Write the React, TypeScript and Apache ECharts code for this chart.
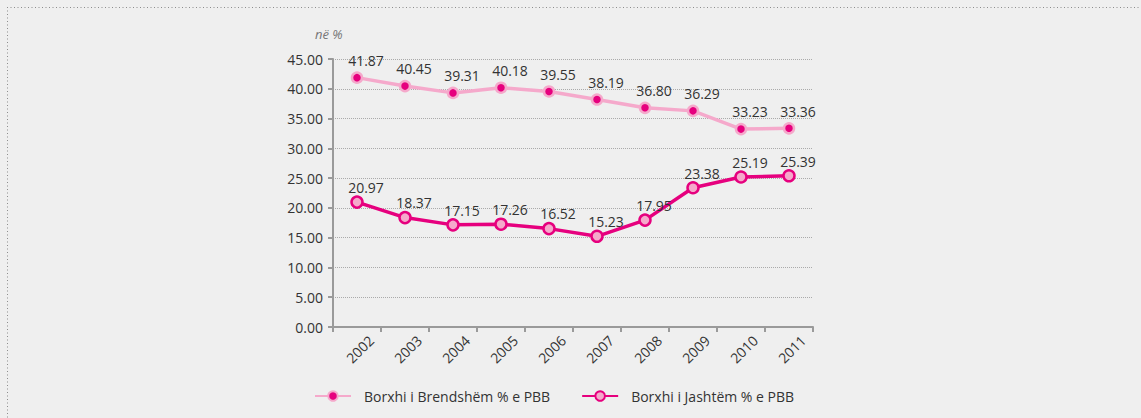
import React, { useEffect, useRef } from "react";
import * as echarts from "echarts";

const years = ["2002", "2003", "2004", "2005", "2006", "2007", "2008", "2009", "2010", "2011"];
const brendshem = [41.87, 40.45, 39.31, 40.18, 39.55, 38.19, 36.8, 36.29, 33.23, 33.36];
const jashtem = [20.97, 18.37, 17.15, 17.26, 16.52, 15.23, 17.95, 23.38, 25.19, 25.39];
const seriesNames = ["Borxhi i Brendshëm % e PBB", "Borxhi i Jashtëm % e PBB"];
const unitLabel = "në %";

const LIGHT = "#f5a9cb";
const MAGENTA = "#e6007e";
const FONT = "'Open Sans', sans-serif";

export default function App() {
  const ref = useRef<HTMLDivElement>(null);
  useEffect(() => {
    document.body.style.background = "#efefef";
    const chart = echarts.init(ref.current!, undefined, { renderer: "svg" });
    chart.setOption({
      animation: false,
      backgroundColor: "#efefef",
      textStyle: { fontFamily: FONT },
      grid: { left: 333, top: 59, width: 480, height: 268, containLabel: false },
      graphic: [
        { type: "line", shape: { x1: 7, y1: 7.5, x2: 1141, y2: 7.5 }, style: { stroke: "#8c8c8c", lineWidth: 1, lineDash: [1, 2.5] } },
        { type: "line", shape: { x1: 7.5, y1: 7, x2: 7.5, y2: 418 }, style: { stroke: "#8c8c8c", lineWidth: 1, lineDash: [1, 2.5] } },
        {
          type: "text",
          x: 315,
          y: 34,
          style: { text: unitLabel, fill: "#777", font: `italic 13px ${FONT}`, verticalAlign: "middle" },
        },
      ],
      legend: {
        left: 309,
        top: 384,
        itemWidth: 36,
        itemHeight: 12,
        itemGap: 31,
        textStyle: { fontSize: 14, color: "#333", fontFamily: FONT, padding: [0, 0, 0, 8] },
        data: seriesNames,
      },
      xAxis: {
        type: "category",
        data: years,
        boundaryGap: true,
        axisLine: { lineStyle: { color: "#9a9a9a", width: 2 } },
        axisTick: { show: true, length: 5, lineStyle: { color: "#9a9a9a", width: 2 } },
        axisLabel: {
          interval: 0,
          rotate: 45,
          align: "center",
          verticalAlign: "middle",
          margin: 25,
          padding: [0, 0, 0, 8],
          fontSize: 14,
          color: "#333",
          fontFamily: FONT,
        },
      },
      yAxis: {
        type: "value",
        min: 0,
        max: 45,
        interval: 5,
        axisLine: { show: true, lineStyle: { color: "#9a9a9a", width: 2 } },
        axisTick: { show: true, length: 5, lineStyle: { color: "#9a9a9a", width: 2 } },
        axisLabel: {
          formatter: (v: number) => v.toFixed(2),
          fontSize: 14,
          color: "#333",
          margin: 10,
          fontFamily: FONT,
        },
        splitLine: { lineStyle: { color: "#aaaaaa", type: [1, 1], width: 1 } },
      },
      series: [
        {
          name: seriesNames[0],
          type: "line",
          data: brendshem,
          symbol: "circle",
          symbolSize: 10,
          lineStyle: { color: LIGHT, width: 3.5 },
          itemStyle: { color: MAGENTA, borderColor: LIGHT, borderWidth: 2.5 },
          label: {
            show: true,
            position: "top",
            distance: 4,
            offset: [9, 0],
            formatter: (p: any) => p.value.toFixed(2),
            fontSize: 14,
            color: "#333",
            fontFamily: FONT,
          },
        },
        {
          name: seriesNames[1],
          type: "line",
          data: jashtem,
          symbol: "circle",
          symbolSize: 11,
          lineStyle: { color: MAGENTA, width: 3.5 },
          itemStyle: { color: LIGHT, borderColor: MAGENTA, borderWidth: 2.5 },
          label: {
            show: true,
            position: "top",
            distance: 1,
            offset: [9, 0],
            formatter: (p: any) => p.value.toFixed(2),
            fontSize: 14,
            color: "#333",
            fontFamily: FONT,
          },
        },
      ],
    });
    return () => chart.dispose();
  }, []);
  return (
    <div
      ref={ref}
      style={{ position: "fixed", left: 0, top: 0, width: 1141, height: 418, background: "#efefef" }}
    />
  );
}
